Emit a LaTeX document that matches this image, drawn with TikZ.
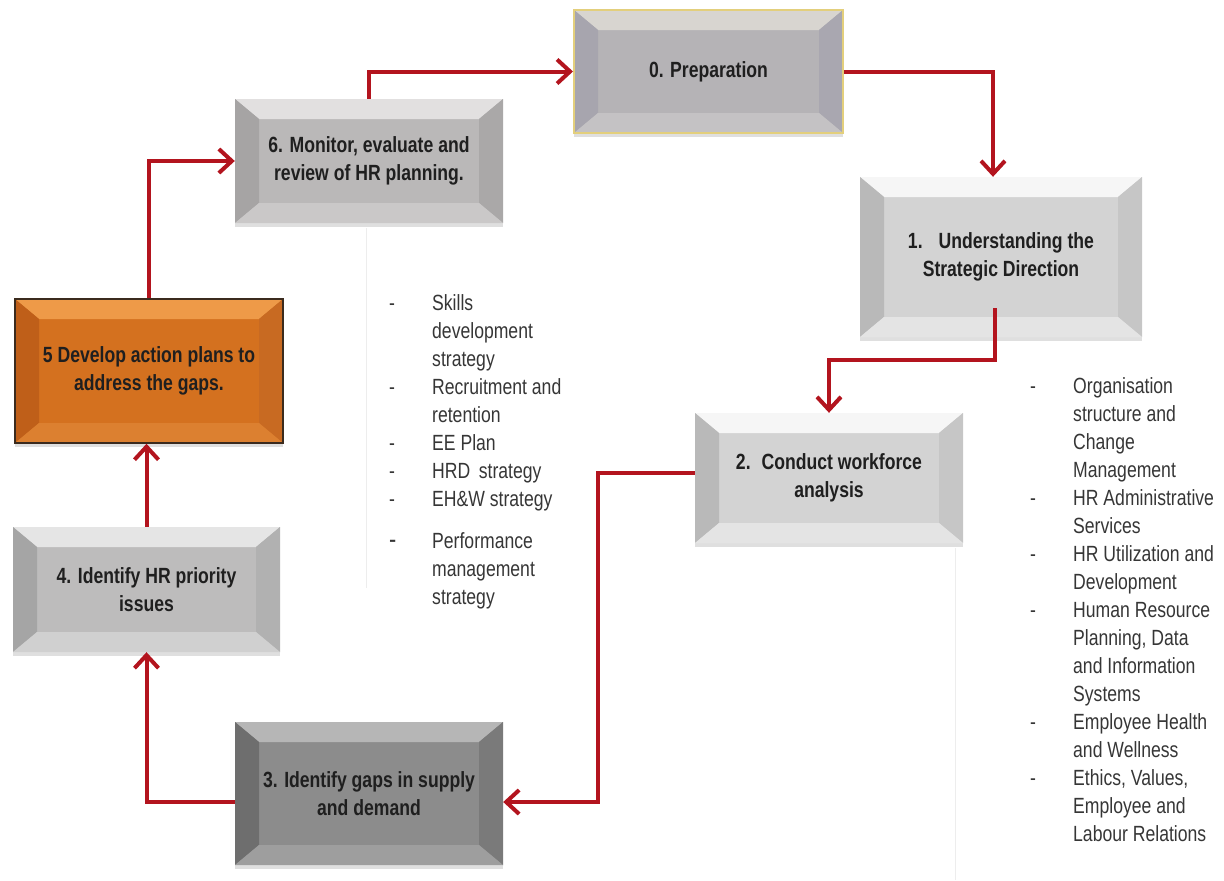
\documentclass[tikz,border=0pt]{standalone}
\usepackage{fontspec}
\setmainfont{Liberation Sans}
\newfontfamily\narrowsans[FakeStretch=0.8]{Liberation Sans}
\usetikzlibrary{arrows.meta,shadows}

\definecolor{flowred}{HTML}{B3141E}
\definecolor{listtext}{HTML}{363636}
\definecolor{goldedge}{HTML}{E3CF7C}
\definecolor{darkedge}{HTML}{3B2B1E}
% stage 0
\definecolor{aF}{HTML}{B5B3B6}\definecolor{aT}{HTML}{D8D5D0}\definecolor{aL}{HTML}{A7A5AE}\definecolor{aR}{HTML}{A9A7B0}\definecolor{aB}{HTML}{C4C2C4}
% stage 6
\definecolor{gF}{HTML}{BAB8B8}\definecolor{gT}{HTML}{E2E0E0}\definecolor{gL}{HTML}{A6A4A4}\definecolor{gR}{HTML}{AAA8A8}\definecolor{gB}{HTML}{CAC8C8}
% stages 1 and 2
\definecolor{bF}{HTML}{D3D3D3}\definecolor{bT}{HTML}{F6F6F6}\definecolor{bL}{HTML}{B9B9B9}\definecolor{bR}{HTML}{C6C6C6}\definecolor{bB}{HTML}{E4E4E4}
% stage 5
\definecolor{oF}{HTML}{D4711F}\definecolor{oT}{HTML}{EE9A48}\definecolor{oL}{HTML}{BF5F19}\definecolor{oR}{HTML}{C86A22}\definecolor{oB}{HTML}{DC8030}
% stage 4
\definecolor{mF}{HTML}{BDBCBC}\definecolor{mT}{HTML}{E5E5E5}\definecolor{mL}{HTML}{A5A5A5}\definecolor{mR}{HTML}{B1B1B1}\definecolor{mB}{HTML}{D0D0D0}
% stage 3
\definecolor{dF}{HTML}{8C8C8C}\definecolor{dT}{HTML}{B6B6B6}\definecolor{dL}{HTML}{6E6E6E}\definecolor{dR}{HTML}{7A7A7A}\definecolor{dB}{HTML}{9E9E9E}

\begin{document}
\begin{tikzpicture}[x=1pt,y=-1pt,
  stage/.style={rectangle, inner sep=0pt, fill=#1F, draw=none,
    align=center, text=black!88,
    font=\narrowsans\bfseries\fontsize{22}{28}\selectfont,
    drop shadow={shadow xshift=0pt, shadow yshift=-4pt, opacity=0.25},
    path picture={
      \coordinate (bnw) at (path picture bounding box.north west);
      \coordinate (bne) at (path picture bounding box.north east);
      \coordinate (bsw) at (path picture bounding box.south west);
      \coordinate (bse) at (path picture bounding box.south east);
      \coordinate (inw) at ([xshift=24pt,yshift=-20pt]bnw);
      \coordinate (ine) at ([xshift=-24pt,yshift=-20pt]bne);
      \coordinate (isw) at ([xshift=24pt,yshift=20pt]bsw);
      \coordinate (ise) at ([xshift=-24pt,yshift=20pt]bse);
      \fill[#1T] (bnw) -- (bne) -- (ine) -- (inw) -- cycle;
      \fill[#1L] (bnw) -- (inw) -- (isw) -- (bsw) -- cycle;
      \fill[#1R] (bne) -- (ine) -- (ise) -- (bse) -- cycle;
      \fill[#1B] (bsw) -- (isw) -- (ise) -- (bse) -- cycle;
    }},
  flow/.style={draw=flowred, line width=4pt,
    -{Straight Barb[length=13pt,width=24pt]}},
  bullets/.style={anchor=base west, inner sep=0pt, text=listtext,
    font=\narrowsans\fontsize{22}{28}\selectfont},
  faint/.style={draw=black!7, line width=0.8pt}
]
\useasboundingbox (0,0) rectangle (1224,881);

% faint frames behind the two lists
\draw[faint] (366,228) -- (366,588);
\draw[faint] (955,548) -- (955,880);

% process stages
\node[stage=a, draw=goldedge, line width=2pt,
      minimum width=269pt, minimum height=123pt] (p0) at (708.5,71.5)
      {0. Preparation};
\node[stage=g, minimum width=268pt, minimum height=124pt] (p6) at (369,161)
      {6. Monitor, evaluate and\\review of HR planning.};
\node[stage=b, minimum width=282pt, minimum height=160pt] (p1) at (1001,257)
      {1.\enspace\ Understanding the\\Strategic Direction};
\node[stage=o, draw=darkedge, line width=1.5pt,
      minimum width=268pt, minimum height=144pt] (p5) at (149,371)
      {5 Develop action plans to\\address the gaps.};
\node[stage=b, minimum width=268pt, minimum height=130pt] (p2) at (829,478)
      {2.\enspace Conduct workforce\\analysis};
\node[stage=m, minimum width=267pt, minimum height=125pt] (p4) at (146.5,589.5)
      {4. Identify HR priority\\issues};
\node[stage=d, minimum width=268pt, minimum height=143pt] (p3) at (369,793.5)
      {3. Identify gaps in supply\\and demand};

% bend points of the connectors
\coordinate (k1) at (829,360);
\coordinate (k2) at (598,802);
\coordinate (k3) at (146.5,802);

% connectors
\draw[flow] (p6.north) |- (p0.west);
\draw[flow] (p0.east) -| ([xshift=-8pt]p1.north);
\draw[flow] ([xshift=-6pt,yshift=29pt]p1.south) |- (k1) -- (p2.north);
\draw[flow] ([yshift=5pt]p2.west) -| (k2) -- (k2 -| p3.east);
\draw[flow] (k3 -| p3.west) -- (k3) -- (k3 |- p4.south);
\draw[flow] (p4.north) -- (p4.north |- p5.south);
\draw[flow] (p5.north) |- (p6.west);

% lists of outputs
\node[bullets] (l6) at (389,310) {%
  \begin{tabular}[t]{@{}p{43pt}@{}l@{}}
  - & Skills\\
    & development\\
    & strategy\\
  - & Recruitment and\\
    & retention\\
  - & EE Plan\\
  - & HRD\, strategy\\
  - & EH\&W strategy\\[14pt]
  {\fontsize{27}{28}\selectfont -} & Performance\\
    & management\\
    & strategy
  \end{tabular}};
\node[bullets] (l2) at (1030,393) {%
  \begin{tabular}[t]{@{}p{43pt}@{}l@{}}
  - & Organisation\\
    & structure and\\
    & Change\\
    & Management\\
  - & HR Administrative\\
    & Services\\
  - & HR Utilization and\\
    & Development\\
  - & Human Resource\\
    & Planning, Data\\
    & and Information\\
    & Systems\\
  - & Employee Health\\
    & and Wellness\\
  - & Ethics, Values,\\
    & Employee and\\
    & Labour Relations
  \end{tabular}};
\end{tikzpicture}
\end{document}
